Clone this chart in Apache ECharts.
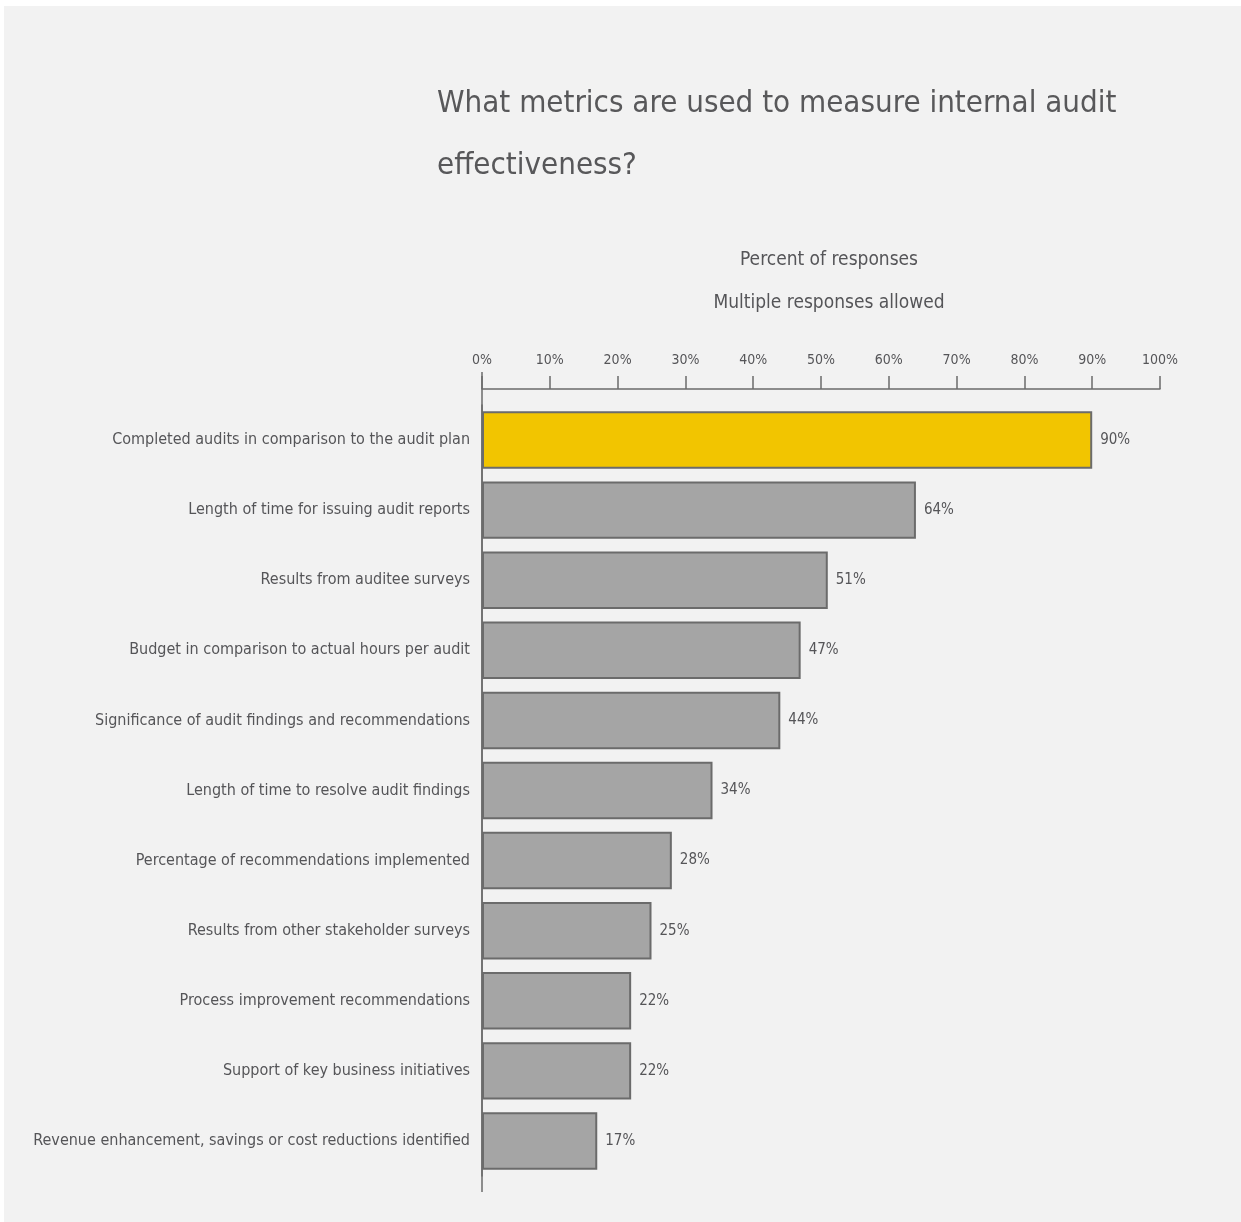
<!DOCTYPE html>
<html>
<head>
<meta charset="utf-8">
<script src="https://cdn.jsdelivr.net/npm/echarts@6/dist/echarts.min.js"></script>
<style>
  html, body { margin: 0; padding: 0; background: #fff; }
  #main { position: absolute; left: 4px; top: 6px; width: 1237px; height: 1216px; }
</style>
</head>
<body>
<div id="main"></div>
<script>
// data
const categories = [
  'Completed audits in comparison to the audit plan',
  'Length of time for issuing audit reports',
  'Results from auditee surveys',
  'Budget in comparison to actual hours per audit',
  'Significance of audit findings and recommendations',
  'Length of time to resolve audit findings',
  'Percentage of recommendations implemented',
  'Results from other stakeholder surveys',
  'Process improvement recommendations',
  'Support of key business initiatives',
  'Revenue enhancement, savings or cost reductions identified'
]
const percents = [90, 64, 51, 47, 44, 34, 28, 25, 22, 22, 17]
const highlightIndex = 0

const FONT = '"Liberation Sans Narrow", "DejaVu Sans Condensed", sans-serif'
const TEXT = '#555558'

const chart = echarts.init(document.getElementById('main'))

chart.setOption({
  backgroundColor: '#f2f2f2',
  textStyle: { fontFamily: FONT },
  title: [{
    text: 'What metrics are used to measure internal audit\neffectiveness?',
    left: 428,
    top: 62,
    textStyle: { fontFamily: FONT, fontSize: 31, fontWeight: 'normal', color: '#58585a', lineHeight: 62 }
  }, {
    text: 'Percent of responses\nMultiple responses allowed',
    left: 820,
    top: 228,
    textAlign: 'center',
    textStyle: { fontFamily: FONT, fontSize: 19, fontWeight: 'normal', color: TEXT, lineHeight: 43 }
  }],
  grid: { left: 478, right: 81, top: 399, bottom: 46, outerBoundsMode: 'none' },
  xAxis: {
    type: 'value',
    position: 'top',
    offset: 16,
    min: 0,
    max: 100,
    interval: 10,
    axisLine: { show: true, lineStyle: { color: '#6b6b6b', width: 1.5 } },
    axisTick: { show: true, length: 13, lineStyle: { color: '#6b6b6b', width: 1.5 } },
    axisLabel: { formatter: '{value}%', color: TEXT, fontSize: 14, margin: 22, fontFamily: FONT },
    splitLine: { show: false }
  },
  yAxis: {
    type: 'category',
    inverse: true,
    data: categories,
    axisLine: { show: true, lineStyle: { color: '#6b6b6b', width: 1.5 } },
    axisTick: { show: false },
    axisLabel: { color: TEXT, fontSize: 16, margin: 12, fontFamily: FONT }
  },
  series: [{
    type: 'bar',
    barCategoryGap: '18%',
    data: percents.map((v, i) => ({
      value: v,
      itemStyle: { color: i === highlightIndex ? '#f2c500' : '#a5a5a5' }
    })),
    itemStyle: { borderColor: '#6b6b6b', borderWidth: 2 },
    label: {
      show: true,
      position: 'right',
      distance: 8,
      formatter: '{c}%',
      color: TEXT,
      fontSize: 15,
      fontFamily: FONT
    }
  }]
})

// extend the vertical axis line above the top axis and below the last bar
const x0 = chart.convertToPixel({ xAxisIndex: 0 }, 0)
chart.setOption({
  graphic: [{
    type: 'line',
    shape: { x1: x0, y1: 366, x2: x0, y2: 1186 },
    style: { stroke: '#6b6b6b', lineWidth: 1.5 },
    z: 10
  }]
})
</script>
</body>
</html>
